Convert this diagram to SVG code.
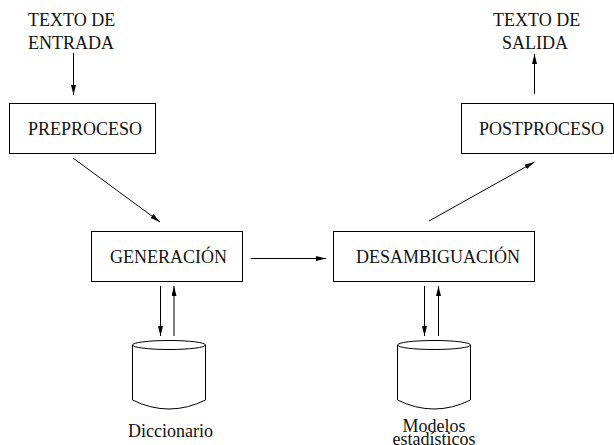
<svg xmlns="http://www.w3.org/2000/svg" width="614" height="445" viewBox="0 0 614 445">
<style>
text{font-family:"Liberation Serif","Times New Roman",serif;font-size:18px;fill:#111}
.b{fill:#fff;stroke:#000;stroke-width:1}
.c{fill:none;stroke:#000;stroke-width:1}
.l{fill:none;stroke:#000;stroke-width:1;marker-end:url(#a)}
</style>
<defs>
<marker id="a" markerUnits="userSpaceOnUse" markerWidth="10" markerHeight="6" refX="10" refY="2.500" orient="auto"><path d="M0 0L10 2.500L0 5Z" fill="#000"/></marker>
</defs>
<rect width="614" height="445" fill="#fff"/>
<g id="connectors">
<path class="l" d="M73.500 53V95"/>
<path class="l" d="M73 158L160 222"/>
<path class="l" d="M534.500 94V54"/>
<path class="l" d="M429 221L534.500 162"/>
<path class="l" d="M251 258.500H326"/>
<path class="l" d="M160.500 286V336"/>
<path class="l" d="M174 336V286"/>
<path class="l" d="M424.500 286V336"/>
<path class="l" d="M438.500 336V286"/>
</g>
<g id="entrada"><text x="28" y="26">TEXTO DE</text><text x="28" y="49">ENTRADA</text></g>
<g id="salida"><text x="493" y="26">TEXTO DE</text><text x="502" y="49">SALIDA</text></g>
<g id="preproceso"><rect class="b" x="9.500" y="103.500" width="146" height="50"/><text x="28" y="135">PREPROCESO</text></g>
<g id="postproceso"><rect class="b" x="461.500" y="103.500" width="152" height="50"/><text x="479" y="135">POSTPROCESO</text></g>
<g id="generacion"><rect class="b" x="91.500" y="231.500" width="151" height="50"/><text x="110" y="263">GENERACIÓN</text></g>
<g id="desambiguacion"><rect class="b" x="333.500" y="231.500" width="201" height="50"/><text x="356" y="263">DESAMBIGUACIÓN</text></g>
<g id="diccionario">
<path class="c" d="M132.500 345V400Q169 418 205.500 400V345"/>
<ellipse class="c" cx="169" cy="345" rx="36.500" ry="4.500"/>
<text x="128" y="437">Diccionario</text>
</g>
<g id="modelos">
<path class="c" d="M397.500 345V400Q434 418 470.500 400V345"/>
<ellipse class="c" cx="434" cy="345" rx="36.500" ry="4.500"/>
<text x="434" y="432" text-anchor="middle">Modelos</text>
<text x="434" y="445" text-anchor="middle">estadísticos</text>
</g>
</svg>
